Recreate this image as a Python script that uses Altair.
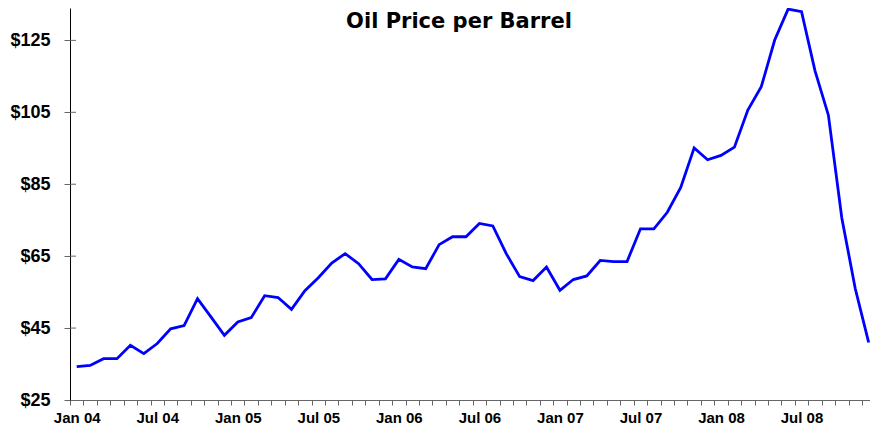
import altair as alt
import pandas as pd

# Monthly oil price, Jan 2004 - Dec 2008
prices = [
    34.3, 34.6, 36.5, 36.5, 40.2, 37.9, 40.7, 44.8, 45.7, 53.2, 48.1, 43.0,
    46.7, 47.9, 54.0, 53.5, 50.2, 55.4, 59.0, 63.1, 65.7, 62.9, 58.5, 58.7,
    64.1, 62.0, 61.5, 68.2, 70.4, 70.4, 74.1, 73.4, 65.7, 59.3, 58.2, 62.0,
    55.5, 58.5, 59.5, 63.8, 63.5, 63.5, 72.6, 72.6, 77.2, 84.1, 95.1, 91.8,
    93.0, 95.3, 105.6, 112.1, 125.1, 133.7, 133.0, 116.6, 104.2, 75.6, 56.0, 41.0,
]
month_index = list(range(len(prices)))
label_positions = [0, 6, 12, 18, 24, 30, 36, 42, 48, 54]
tick_labels = ["Jan 04", "Jul 04", "Jan 05", "Jul 05", "Jan 06", "Jul 06",
               "Jan 07", "Jul 07", "Jan 08", "Jul 08"]
y_ticks = [25, 45, 65, 85, 105, 125]
title_text = ["Oil Price per Barrel"]

df = pd.DataFrame({"idx": month_index, "price": prices})
ticks_df = pd.DataFrame({"price": y_ticks[1:]})
title_df = pd.DataFrame({"t": title_text})

W, H = 800, 392
x_max = 59.1
month_px = W / (x_max + 0.5)
x_scale = alt.Scale(domain=[-0.5, x_max], nice=False, zero=False)
y_scale = alt.Scale(domain=[25, 134], nice=False, zero=False)

label_expr = " : ".join(
    f"round(datum.value + 0.5) == {p} ? '{l}'" for p, l in zip(label_positions, tick_labels)
) + " : ''"

x_axis = alt.Axis(
    values=[i - 0.5 for i in month_index],
    labelExpr=label_expr, labelOffset=month_px / 2,
    tickSize=5, tickColor="#666666", domainColor="#666666", domainWidth=1,
    labelFont="Liberation Sans", labelFontWeight="bold", labelFontSize=15,
    labelColor="black", labelPadding=5, labelOverlap=False, labelFlush=False,
    labelBound=False, grid=False)
y_axis = alt.Axis(
    values=y_ticks, labelExpr="'$' + datum.value",
    tickSize=6, tickColor="#666666", domainColor="black", domainWidth=1,
    labelFont="Liberation Sans", labelFontWeight="bold", labelFontSize=18,
    labelColor="black", labelPadding=14, labelOverlap=False, grid=False)

line = alt.Chart(df).mark_line(color="#0000FF", strokeWidth=2.8).encode(
    x=alt.X("idx:Q", scale=x_scale, title=None, axis=x_axis),
    y=alt.Y("price:Q", scale=y_scale, title=None, axis=y_axis),
)

inner_ticks = alt.Chart(ticks_df).mark_rule(color="#666666", strokeWidth=1).encode(
    x=alt.value(0), x2=alt.value(6),
    y=alt.Y("price:Q", scale=y_scale, title=None, axis=y_axis),
)

title = alt.Chart(title_df).mark_text(
    font="DejaVu Sans", fontWeight="bold", fontSize=21, color="black",
    align="center", baseline="alphabetic",
).encode(x=alt.value(389), y=alt.value(20), text="t:N")

chart = alt.layer(line, inner_ticks, title).properties(
    width=W, height=H,
    autosize=alt.AutoSizeParams(type="none"),
    padding={"left": 62, "top": 0, "right": 0, "bottom": 26},
).configure_view(stroke=None)

chart.save("out.html", embed_options={"renderer": "svg", "actions": False})
